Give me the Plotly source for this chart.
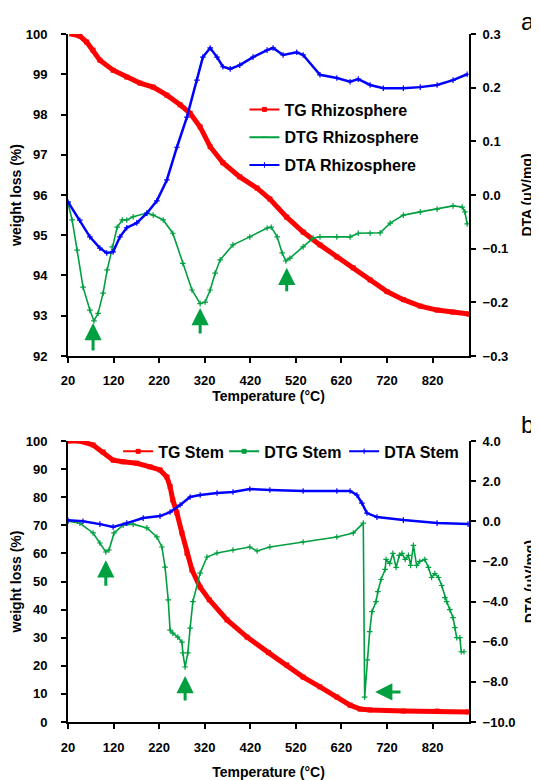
import plotly.graph_objects as go
from plotly.subplots import make_subplots

# ---------------- data (a) Rhizosphere ----------------
TG_A_T = [28, 46, 61, 75, 90, 119, 149, 178, 207, 237, 266, 288, 310, 332, 360, 397,
          435, 463, 500, 536, 573, 610, 646, 683, 720, 756, 793, 830, 865, 900]
TG_A = [100.0, 99.95, 99.8, 99.6, 99.35, 99.1, 98.93, 98.78, 98.68, 98.48, 98.24, 98.03,
        97.69, 97.2, 96.8, 96.45, 96.17, 95.9, 95.45, 95.08, 94.76, 94.46, 94.19, 93.89,
        93.6, 93.4, 93.24, 93.14, 93.09, 93.04]

DTG_A_T = [20, 29, 40, 53, 68, 77, 86, 97, 106, 117, 128, 139, 149, 163, 193, 207, 229,
           250, 272, 292, 310, 321, 332, 343, 354, 382, 419, 457, 466, 479, 490, 498, 507,
           536, 558, 573, 610, 639, 657, 683, 705, 727, 756, 793, 830, 865, 885, 891, 896]
DTG_A = [95.8, 95.38, 94.63, 93.71, 93.14, 92.87, 93.06, 93.56, 94.14, 94.71, 95.2, 95.38,
         95.38, 95.46, 95.55, 95.5, 95.38, 95.05, 94.3, 93.64, 93.3, 93.34, 93.64, 94.06,
         94.39, 94.76, 94.96, 95.18, 95.2, 94.96, 94.56, 94.36, 94.43, 94.71, 94.93, 94.96,
         94.96, 94.96, 95.05, 95.05, 95.06, 95.3, 95.5, 95.58, 95.65, 95.73, 95.7, 95.58,
         95.28]

DTA_A_T = [20, 46, 68, 90, 105, 119, 134, 149, 171, 193, 215, 237, 259, 281, 303, 316,
           332, 347, 360, 376, 397, 426, 457, 470, 492, 522, 536, 573, 610, 639, 657, 683,
           712, 756, 793, 830, 865, 896]
DTA_A = [-0.013, -0.047, -0.078, -0.099, -0.108, -0.106, -0.078, -0.061, -0.052, -0.034,
         -0.011, 0.028, 0.089, 0.145, 0.214, 0.257, 0.274, 0.257, 0.239, 0.235, 0.242,
         0.257, 0.270, 0.274, 0.261, 0.266, 0.261, 0.224, 0.218, 0.211, 0.216, 0.205,
         0.199, 0.199, 0.201, 0.205, 0.214, 0.225]

# ---------------- data (b) Stem ----------------
TG_B_T = [20, 46, 75, 97, 119, 141, 171, 200, 222, 237, 244, 250, 259, 270, 281, 292,
          310, 330, 369, 413, 460, 500, 536, 573, 610, 639, 661, 683, 756, 830, 898]
TG_B = [100, 100, 98.6, 96.1, 93.2, 92.6, 92.1, 90.8, 89.7, 87.2, 83.8, 79, 74.4, 67.3,
        60.1, 54.1, 48, 43.5, 36.3, 30.2, 24.7, 20.3, 16, 12.5, 8.9, 6, 4.6, 4.3, 3.9,
        3.9, 3.6]

DTG_B_T = [20, 46, 75, 90, 103, 110, 121, 141, 163, 193, 215, 226, 233, 240, 244, 250,
           261, 270, 272, 277, 283, 288, 294, 310, 325, 347, 382, 419, 435, 463, 536, 610,
           646, 668, 671, 677, 682, 687, 696, 700, 707, 716, 718, 726, 733, 740, 747, 753,
           760, 767, 772, 778, 785, 792, 803, 811, 818, 825, 833, 840, 847, 851, 858, 865,
           869, 873, 880, 883, 889]
DTG_B = [0.0, -0.1, -0.58, -1.08, -1.53, -1.43, -0.58, -0.19, -0.14, -0.33, -0.78, -1.28,
         -2.28, -3.92, -5.42, -5.57, -5.77, -6.02, -6.56, -7.26, -6.56, -5.32, -4.0, -2.58,
         -1.78, -1.58, -1.43, -1.28, -1.48, -1.28, -1.03, -0.78, -0.58, -0.09, -8.76,
         -6.9, -5.5, -4.5, -4.0, -3.5, -2.9, -2.4, -1.9, -2.1, -1.6, -2.3, -1.7, -1.6,
         -1.9, -1.7, -2.2, -1.2, -2.2, -2.0, -1.9, -2.3, -2.8, -2.6, -2.8, -3.2, -3.8,
         -4.0, -4.4, -4.8, -5.3, -5.8, -5.8, -6.5, -6.5]

DTA_B_T = [20, 53, 90, 119, 149, 185, 222, 244, 266, 288, 310, 347, 382, 419, 463, 536,
           610, 639, 654, 665, 676, 698, 756, 830, 898]
DTA_B = [0.05, 0.0, -0.14, -0.28, -0.09, 0.16, 0.26, 0.46, 0.81, 1.21, 1.31, 1.41, 1.46,
         1.61, 1.56, 1.51, 1.51, 1.51, 1.31, 0.91, 0.41, 0.21, 0.06, -0.09, -0.14]

X_TICKS = [20, 120, 220, 320, 420, 520, 620, 720, 820]
YA_TICKS = [92, 93, 94, 95, 96, 97, 98, 99, 100]
YA2_TICKS = [-0.3, -0.2, -0.1, 0.0, 0.1, 0.2, 0.3]
YB_TICKS = [0, 10, 20, 30, 40, 50, 60, 70, 80, 90, 100]
YB2_TICKS = [-10, -8, -6, -4, -2, 0, 2, 4]

NAMES_A = ["TG Rhizosphere", "DTG Rhizosphere", "DTA Rhizosphere"]
NAMES_B = ["TG Stem", "DTG Stem", "DTA Stem"]

# arrows: (tip_x, tip_y, tail_x, tail_y)
ARROWS_A = [(75, 92.82, 75, 92.1), (310, 93.19, 310, 92.52), (500, 94.19, 500, 93.57)]
ARROWS_B = [(103, 57.6, 103, 48.0), (277, 16.4, 277, 7.1), (694, 10.7, 753, 10.7)]

RED = "#FF0000"
GREEN = "#00A040"
BLUE = "#0000FF"
FONT = "Liberation Sans"

fig = make_subplots(rows=2, cols=1, specs=[[{"secondary_y": True}], [{"secondary_y": True}]],
                    vertical_spacing=0.0)

def tg(x, y):
    return go.Scatter(x=x, y=y, mode="lines+markers", showlegend=False,
                      line=dict(color=RED, width=5),
                      marker=dict(symbol="square", size=5, color=RED))

def dtg(x, y):
    return go.Scatter(x=x, y=y, mode="lines+markers", showlegend=False,
                      line=dict(color=GREEN, width=1.6),
                      marker=dict(symbol="cross-thin", size=4,
                                  line=dict(color=GREEN, width=1.2), color=GREEN))

def dta(x, y):
    return go.Scatter(x=x, y=y, mode="lines+markers", showlegend=False,
                      line=dict(color=BLUE, width=2.5),
                      marker=dict(symbol="cross-thin", size=4,
                                  line=dict(color=BLUE, width=1.2), color=BLUE))

def proxy(name, color, symbol, legend, lw=None):
    # legend-only entry (thin line with small marker, as in the reference legend)
    return go.Scatter(x=[None], y=[None], name=name, mode="lines+markers", legend=legend,
                      legendgroup=name, line=dict(color=color, width=2), legendwidth=lw,
                      marker=dict(symbol=symbol, size=4, color=color,
                                  line=dict(color=color, width=1)))

fig.add_trace(tg(TG_A_T, TG_A), row=1, col=1, secondary_y=False)
fig.add_trace(dtg(DTG_A_T, DTG_A), row=1, col=1, secondary_y=False)
fig.add_trace(dta(DTA_A_T, DTA_A), row=1, col=1, secondary_y=True)

fig.add_trace(tg(TG_B_T, TG_B), row=2, col=1, secondary_y=False)
fig.add_trace(dtg(DTG_B_T, DTG_B), row=2, col=1, secondary_y=True)
fig.add_trace(dta(DTA_B_T, DTA_B), row=2, col=1, secondary_y=True)

for name, color, sym in zip(NAMES_A, [RED, GREEN, BLUE], ["square", "line-ew", "cross-thin"]):
    fig.add_trace(proxy(name, color, sym, "legend"), row=1, col=1, secondary_y=False)
for name, color, sym, lw in zip(NAMES_B, [RED, GREEN, BLUE], ["square", "square", "cross-thin"],
                                [61, 75, None]):
    fig.add_trace(proxy(name, color, sym, "legend2", lw), row=2, col=1, secondary_y=False)

tickfont = dict(family=FONT, size=13, color="black", weight="bold")
titlefont = dict(family=FONT, size=14, color="black", weight="bold")
legfont = dict(family=FONT, size=16, color="black", weight="bold")
axis_common = dict(showline=True, linecolor="black", linewidth=2, ticks="outside",
                   ticklen=5, tickwidth=1.5, tickcolor="black", showgrid=False,
                   zeroline=False, tickfont=tickfont, automargin=False)

# page has an 8px body margin, so the figure is 531x772 and sits at (8, 8)
fig.update_layout(
    width=531, height=772, autosize=False,
    paper_bgcolor="white", plot_bgcolor="white",
    margin=dict(l=60, r=70, t=26, b=58),
    font=dict(family=FONT, color="black"),
    xaxis=dict(domain=[0, 1], range=[20, 900], tickvals=X_TICKS, ticklabelstandoff=6,
               title=dict(text="Temperature (°C)", font=titlefont, standoff=0), **axis_common),
    xaxis2=dict(domain=[0, 1], range=[20, 900], tickvals=X_TICKS, ticklabelstandoff=7,
                title=dict(text="Temperature (°C)", font=titlefont, standoff=17), **axis_common),
    yaxis=dict(domain=[0.532, 1], range=[92, 100], tickvals=YA_TICKS, ticklabelstandoff=11,
               title=dict(text="weight loss (%)", font=titlefont, standoff=5), **axis_common),
    yaxis2=dict(range=[-0.3, 0.3], tickvals=YA2_TICKS, tickformat=".1f", ticklabelstandoff=4,
                title=dict(text="DTA (uV/mg)", font=titlefont, standoff=15), **axis_common),
    yaxis3=dict(domain=[0, 0.4084], range=[0, 100], tickvals=YB_TICKS, ticklabelstandoff=11,
                title=dict(text="weight loss (%)", font=titlefont, standoff=5), **axis_common),
    yaxis4=dict(range=[-10, 4], tickvals=YB2_TICKS, tickformat=".1f", ticklabelstandoff=4,
                title=dict(text="DTA (uV/mg)", font=titlefont, standoff=11), **axis_common),
    legend=dict(x=0.44, y=0.915, xanchor="left", yanchor="top", bgcolor="rgba(0,0,0,0)",
                font=legfont, tracegroupgap=4, itemclick=False),
    legend2=dict(x=0.125, y=0.418, xanchor="left", yanchor="top", orientation="h",
                 bgcolor="rgba(0,0,0,0)", font=legfont),
    showlegend=True,
)

annotations = []
for (x, y, ax, ay) in ARROWS_A:
    annotations.append(dict(x=x, y=y, ax=ax, ay=ay, xref="x", yref="y", axref="x", ayref="y",
                            text="", showarrow=True, arrowhead=2, arrowsize=1.15,
                            arrowwidth=3, arrowcolor=GREEN, standoff=0))
for (x, y, ax, ay) in ARROWS_B:
    annotations.append(dict(x=x, y=y, ax=ax, ay=ay, xref="x2", yref="y3", axref="x2", ayref="y3",
                            text="", showarrow=True, arrowhead=2, arrowsize=1.15,
                            arrowwidth=3, arrowcolor=GREEN, standoff=0))
annotations.append(dict(x=1.147, y=1.018, xref="paper", yref="paper", text="a", showarrow=False,
                        xanchor="center", yanchor="middle",
                        font=dict(family=FONT, size=24, color="black")))
annotations.append(dict(x=1.147, y=0.432, xref="paper", yref="paper", text="b", showarrow=False,
                        xanchor="center", yanchor="middle",
                        font=dict(family=FONT, size=24, color="black")))
fig.update_layout(annotations=annotations)

fig.write_html("out.html")
